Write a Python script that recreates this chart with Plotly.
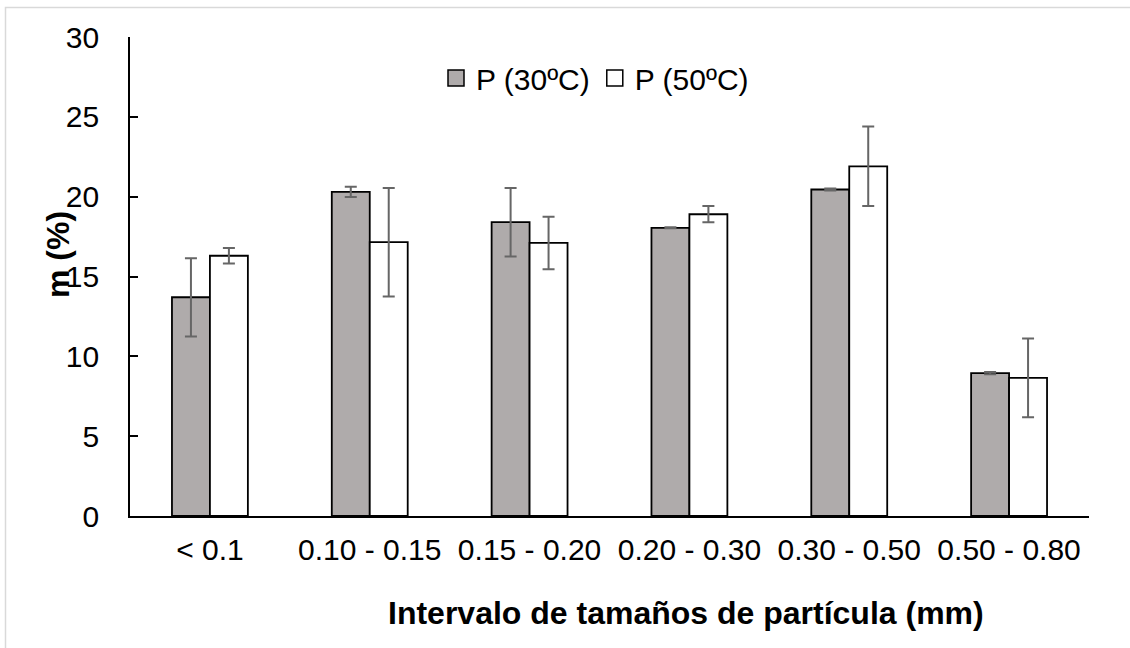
import plotly.graph_objects as go

categories = ["< 0.1", "0.10 - 0.15", "0.15 - 0.20", "0.20 - 0.30", "0.30 - 0.50", "0.50 - 0.80"]
p30_values = [13.7, 20.3, 18.4, 18.05, 20.45, 8.95]
p30_errors = [2.45, 0.32, 2.15, 0.03, 0.06, 0.07]
p50_values = [16.3, 17.15, 17.1, 18.9, 21.9, 8.65]
p50_errors = [0.49, 3.4, 1.65, 0.51, 2.49, 2.47]
series_names = ["P (30ºC)", "P (50ºC)"]
y_ticks = [0, 5, 10, 15, 20, 25, 30]

FONT = "Liberation Sans, Arial, sans-serif"
GRAY = "#AFABAB"
ERR = "#666666"

# plot-area pixel geometry
L, R, T, B = 130, 41, 37, 132
W, H = 1130, 648
pw, ph = W - L - R, H - T - B

def px_x(px):
    return (px - L) / pw

def px_y(py):
    return (H - B - py) / ph

fig = go.Figure()
fig.add_trace(go.Bar(
    x=categories, y=p30_values, name=series_names[0], showlegend=False,
    marker=dict(color=GRAY, line=dict(color="black", width=1.8)),
    error_y=dict(type="data", array=p30_errors, color=ERR, thickness=2, width=6),
))
fig.add_trace(go.Bar(
    x=categories, y=p50_values, name=series_names[1], showlegend=False,
    marker=dict(color="white", line=dict(color="black", width=1.8)),
    error_y=dict(type="data", array=p50_errors, color=ERR, thickness=2, width=6),
))
# legend entries
for nm, col in zip(series_names, [GRAY, "white"]):
    fig.add_trace(go.Scatter(
        x=[None], y=[None], mode="markers", name=nm,
        marker=dict(symbol="square", size=17, color=col, line=dict(color="black", width=1.5)),
    ))

fig.update_layout(
    width=W, height=H,
    margin=dict(l=L, r=R, t=T, b=B),
    paper_bgcolor="white", plot_bgcolor="white",
    barmode="group", bargap=0.525, bargroupgap=0,
    font=dict(family=FONT, size=30, color="black"),
    showlegend=True,
    legend=dict(
        orientation="h", x=px_x(595), y=px_y(78), xanchor="center", yanchor="middle",
        font=dict(size=30, color="black"), bgcolor="rgba(0,0,0,0)",
        itemsizing="trace", tracegroupgap=0,
    ),
    xaxis=dict(
        showline=True, linecolor="black", linewidth=1.8,
        ticks="", showgrid=False, ticklabelstandoff=6,
        tickfont=dict(size=30, family=FONT, color="black"),
        fixedrange=True,
    ),
    yaxis=dict(
        range=[0, 30], tickvals=y_ticks,
        showline=True, linecolor="black", linewidth=1.8,
        ticks="inside", ticklen=8, tickwidth=1.8, tickcolor="black",
        showgrid=False, zeroline=False, ticklabelstandoff=23,
        tickfont=dict(size=30, family=FONT, color="black"),
        fixedrange=True,
    ),
    shapes=[dict(
        type="rect", xref="paper", yref="paper",
        x0=px_x(5.5), x1=px_x(1140), y0=px_y(660), y1=px_y(7.5),
        line=dict(color="#D9D9D9", width=1.5), fillcolor="rgba(0,0,0,0)", layer="below",
    )],
    annotations=[
        dict(text="<b>m (%)</b>", xref="paper", yref="paper", x=px_x(58), y=px_y(255),
             xanchor="center", yanchor="middle", showarrow=False, textangle=-90,
             font=dict(size=32, family=FONT, color="black")),
        dict(text="<b>Intervalo de tamaños de partícula (mm)</b>", xref="paper", yref="paper",
             x=px_x(686), y=px_y(613), xanchor="center", yanchor="middle", showarrow=False,
             font=dict(size=32, family=FONT, color="black")),
    ],
)

fig.write_html("out.html")
